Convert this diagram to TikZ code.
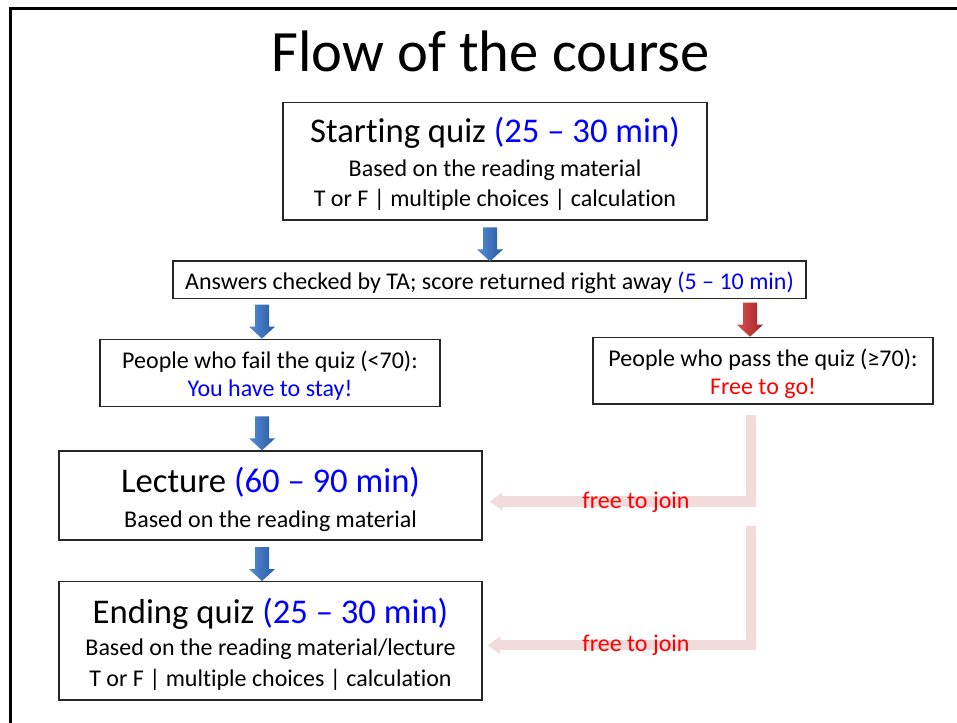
\documentclass[tikz,border=0pt]{standalone}
\usepackage{fontspec}
\setmainfont{Carlito}[Ligatures={NoCommon}]
\usetikzlibrary{arrows.meta,calc}
\definecolor{qblue}{RGB}{0,0,255}
\definecolor{qred}{RGB}{255,0,0}
\definecolor{pinkline}{RGB}{242,220,219}
\definecolor{abl}{RGB}{85,140,210}
\definecolor{abm}{RGB}{115,170,235}
\definecolor{abr}{RGB}{40,90,165}
\definecolor{arl}{RGB}{215,80,80}
\definecolor{arm}{RGB}{230,105,105}
\definecolor{arr}{RGB}{165,35,35}
\newcommand\bigtxt[1]{{\fontsize{26}{31}\selectfont #1}}
\newcommand\topst[1]{\rule{0pt}{#1}}
\newcommand\botst[1]{\rule[-#1]{0pt}{0pt}}
\begin{document}
\begin{tikzpicture}[x=0.75pt,y=-0.75pt,
  box/.style={draw=black!85, line width=1pt, inner sep=0pt, align=center,
    font=\fontsize{18}{22.9}\selectfont},
  smallbox/.style={box, font=\fontsize{18}{21}\selectfont, minimum width=255pt},
  bluearrow/.style={left color=abl, middle color=abm, right color=abr},
  redarrow/.style={left color=arl, middle color=arm, right color=arr},
  joinline/.style={draw=pinkline, line width=7.5pt, line join=miter,
    -{Triangle[width=13pt,length=9.5pt]}},
  jointext/.style={text=qred, font=\fontsize{18}{21}\selectfont, inner sep=0pt},
  pics/blockarrow/.style={code={
    \path[#1] (-7,0) -- (7,0) -- (7,22) -- (13,22) -- (0,34) -- (-13,22) -- (-7,22) -- cycle;}}
]
\useasboundingbox (0,0) rectangle (957,723);
% frame
\draw[line width=2.25pt, line join=miter] (10.5,723) -- (10.5,8.3) -- (957,8.3);

\node[font=\fontsize{43.9}{52}\selectfont, inner sep=0pt] (title) at (490.5,51) {Flow of the course};

\node[box, minimum width=318pt, minimum height=88pt] (startq) at (495,161.35)
  {\bigtxt{\topst{25.4pt}Starting quiz \textcolor{qblue}{(25 – 30 min)}}\\[2.6pt]
   Based on the reading material\\ T or F | multiple choices | calculation\botst{6pt}};

\node[box, minimum width=474.75pt, minimum height=28pt] (check) at (489.5,279.7)
  {\topst{20.25pt}Answers checked by TA; score returned right away \textcolor{qblue}{(5 – 10 min)}\botst{6pt}};

\node[smallbox, minimum height=50.55pt] (fail) at (270,373)
  {\topst{20.25pt}People who fail the quiz (<70):\\ \textcolor{qblue}{You have to stay!}\botst{6pt}};

\node[smallbox, minimum height=50pt] (pass) at (763,370.7)
  {\topst{21.2pt}People who pass the quiz (≥70):\\ \textcolor{qred}{Free to go!}\botst{6pt}};

\node[box, minimum width=317.25pt, minimum height=66.75pt] (lecture) at (270.5,495.5)
  {\bigtxt{\topst{27.5pt}Lecture \textcolor{qblue}{(60 – 90 min)}}\\[3.15pt] Based on the reading material\botst{6pt}};

\node[box, font=\fontsize{18}{23.6}\selectfont, minimum width=317.25pt, minimum height=88.7pt] (endq) at (270.5,640.85)
  {\bigtxt{\topst{27.4pt}Ending quiz \textcolor{qblue}{(25 – 30 min)}}\\[0.4pt]
   Based on the reading material/lecture\\ T or F | multiple choices | calculation\botst{6pt}};

% block arrows
\pic at ($(check.north)+(0.5,-33)$) {blockarrow=bluearrow};
\pic at ($(fail.north)+(-8,-34)$) {blockarrow=bluearrow};
\pic at ($(pass.north)+(-13,-34)$) {blockarrow=redarrow};
\pic at ($(lecture.north)+(-8.5,-34)$) {blockarrow=bluearrow};
\pic at ($(endq.north)+(-8.5,-34)$) {blockarrow=bluearrow};

% free to join connectors
\coordinate (j1s) at ($(pass.south)+(-12,10)$);
\coordinate (j1e) at ($(lecture.east)+(7,6)$);
\draw[joinline] (j1s) |- (j1e);
\node[jointext] (fj1) at (636,502) {free to join};

\coordinate (j2s) at (751,526);
\coordinate (j2e) at ($(endq.east)+(5,4.5)$);
\draw[joinline] (j2s) |- (j2e);
\node[jointext] (fj2) at (636,645) {free to join};
\end{tikzpicture}
\end{document}
